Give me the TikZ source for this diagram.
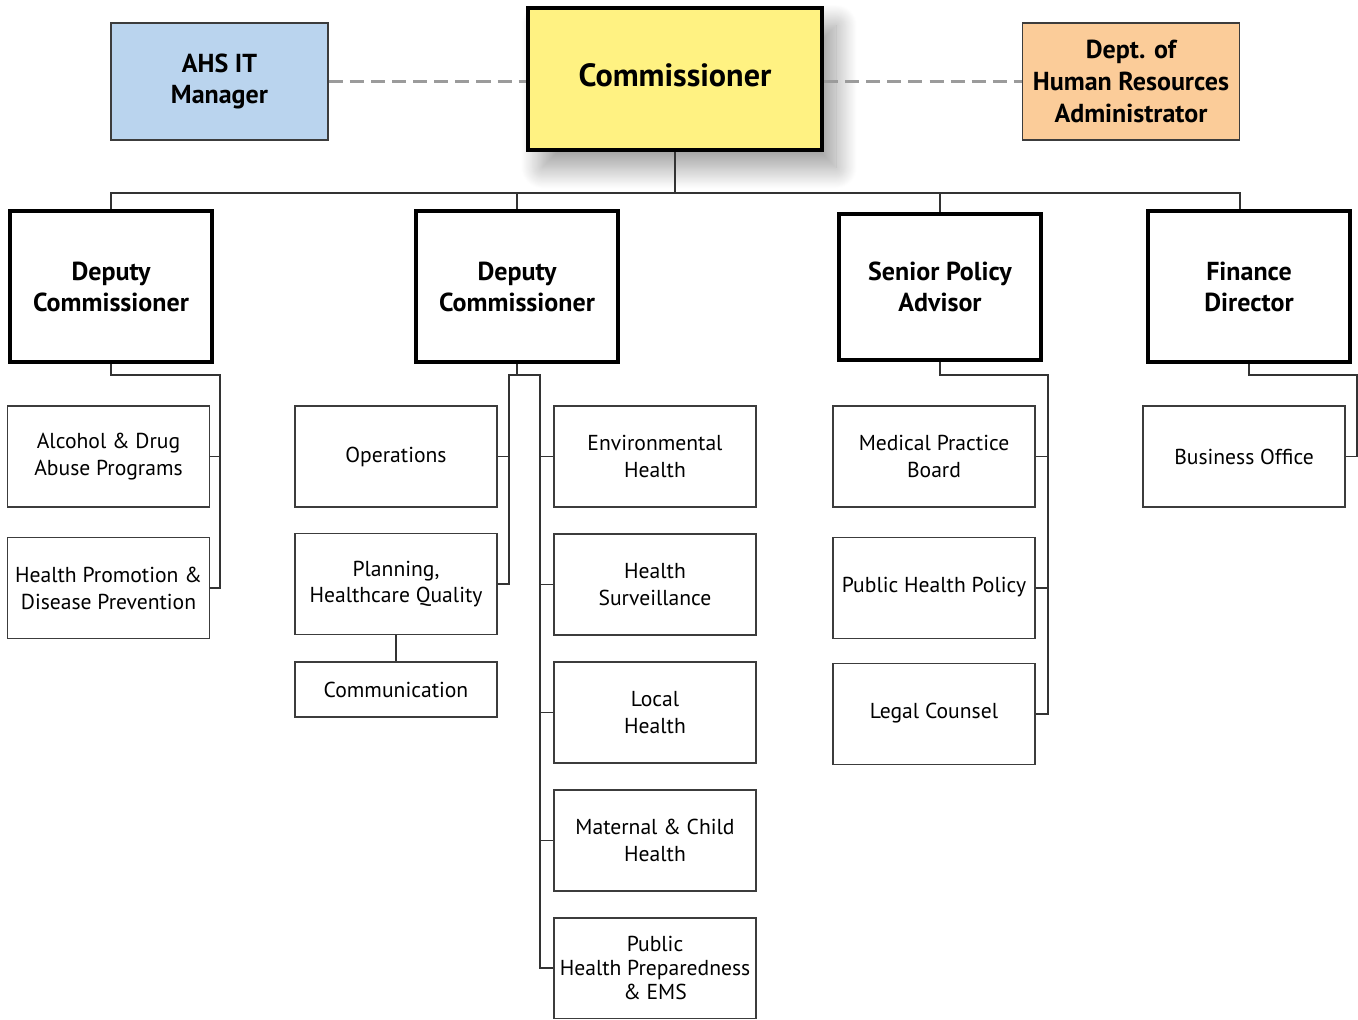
\documentclass[tikz,border=0pt]{standalone}
\usepackage{fontspec}
\setmainfont{PT Sans}
\usetikzlibrary{shadows.blur}
\definecolor{itblue}{RGB}{186,212,238}
\definecolor{commyellow}{RGB}{255,242,130}
\definecolor{hrpeach}{RGB}{251,204,153}
\definecolor{boxline}{RGB}{60,60,60}
\definecolor{dashgray}{RGB}{155,155,155}

\begin{document}
\begin{tikzpicture}[x=0.02cm, y=-0.02cm,
    head/.style={draw=black, line width=2.2pt, minimum width=4.04cm, minimum height=3.02cm,
                 align=center, font=\bfseries\fontsize{14.8}{17.6}\selectfont},
    unit/.style={draw=boxline, line width=1.1pt, minimum width=4.04cm, minimum height=2.02cm,
                 align=center, font=\fontsize{12.3}{15.3}\selectfont},
    side/.style={draw=boxline, line width=1pt, minimum width=4.34cm, minimum height=2.34cm,
                 align=center, font=\bfseries\fontsize{14.8}{18}\selectfont},
    link/.style={draw=black!80, line width=1.1pt},
    dashlink/.style={draw=dashgray, line width=1.6pt, dash pattern=on 8pt off 4pt}]
    \useasboundingbox (0,0) rectangle (1358,1019);

    \node [side, fill=itblue] (ahs) at (219.5,81.5) {AHS IT\\Manager};
    \node [draw=black, line width=2.4pt, fill=commyellow, minimum width=5.88cm, minimum height=2.84cm,
           font=\bfseries\fontsize{18.3}{20}\selectfont,
           blur shadow={shadow xshift=8pt, shadow yshift=-10pt, shadow blur radius=12pt,
                        shadow blur steps=25, shadow opacity=40}]
           (comm) at (675,79) {\raisebox{5pt}{Commissioner}};
    \node [side, fill=hrpeach] (hr) at (1131,81.5) {Dept. of\\Human Resources\\Administrator};

    \node [head] (dep1) at (111,286.5) {Deputy\\Commissioner};
    \node [head] (dep2) at (517,286.5) {Deputy\\Commissioner};
    \node [head, minimum height=2.92cm] (spa) at (940,287) {Senior Policy\\Advisor};
    \node [head] (fin) at (1249,286.5) {Finance\\Director};

    \node [unit] (adp) at (108.5,456.5) {Alcohol \& Drug\\Abuse Programs};
    \node [unit] (hpdp) at (108.5,588) {Health Promotion \&\\Disease Prevention};

    \node [unit] (ops) at (396,456.5) {Operations};
    \node [unit] (plan) at (396,584) {Planning,\\Healthcare Quality};
    \node [unit, minimum height=1.1cm] (comms) at (396,689.5) {Communication};

    \node [unit] (env) at (655,456.5) {Environmental\\Health};
    \node [unit] (surv) at (655,584.5) {Health\\Surveillance};
    \node [unit] (local) at (655,712.5) {Local\\Health};
    \node [unit] (mch) at (655,840.5) {Maternal \& Child\\Health};
    \node [unit, font=\fontsize{12.3}{13.8}\selectfont] (php) at (655,968) {Public\\Health Preparedness\\\& EMS};

    \node [unit] (mpb) at (934,456.5) {Medical Practice\\Board};
    \node [unit] (policy) at (934,588) {\raisebox{4pt}{Public Health Policy}};
    \node [unit] (legal) at (934,714) {\raisebox{4pt}{Legal Counsel}};

    \node [unit] (bus) at (1244,456.5) {Business Office};

    \draw [dashlink] (ahs.east) -- (ahs.east -| comm.west);
    \draw [dashlink] (comm.east |- hr.west) -- (hr.west);

    \coordinate (top) at (675,193);
    \draw [link] (comm.south) -- (top);
    \draw [link] (dep1.north) |- (top) -| (hr.east |- fin.north);
    \draw [link] (dep2.north) -- (dep2.north |- top);
    \draw [link] (spa.north) -- (spa.north |- top);

    \coordinate (b1) at (220,375);
    \draw [link] (dep1.south) |- (b1) |- (hpdp.east);
    \draw [link] (adp.east) -- (adp.east -| b1);

    \coordinate (b2l) at (509,375);
    \coordinate (b2r) at (540,375);
    \draw [link] (dep2.south) -- (dep2.south |- b2l);
    \draw [link] (plan.east) -| (b2l) -- (b2r) |- (php.west);
    \draw [link] (ops.east) -- (ops.east -| b2l);
    \foreach \n in {env,surv,local,mch}
        \draw [link] (\n.west) -- (\n.west -| b2r);
    \draw [link] (plan) -- (comms);

    \coordinate (b3) at (1048,375);
    \draw [link] (spa.south) |- (b3) |- (legal.east);
    \foreach \n in {mpb,policy}
        \draw [link] (\n.east) -- (\n.east -| b3);

    \coordinate (b4) at (1357,375);
    \draw [link] (fin.south) |- (b4) |- (bus.east);
\end{tikzpicture}
\end{document}
